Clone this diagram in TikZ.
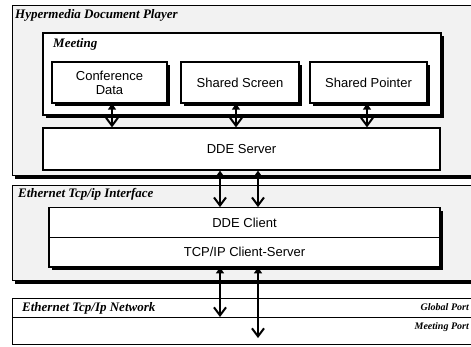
\documentclass[tikz,border=0pt]{standalone}
\usepackage{fontspec}
\setmainfont{Liberation Serif}
\setsansfont{Liberation Sans}
\usetikzlibrary{arrows.meta,shadows}
\begin{document}
\begin{tikzpicture}[x=1pt,y=-1pt,
  outer/.style={draw, line width=1.4, fill=black!5, anchor=north west, inner sep=0,
    drop shadow={shadow xshift=2pt, shadow yshift=-3.5pt, fill=black, opacity=1}},
  netbox/.style={draw, line width=1.2, fill=white, anchor=north west, inner sep=0},
  box/.style={draw, line width=1.2, fill=white, inner sep=0, align=center,
    font=\sffamily\fontsize{13}{14}\selectfont,
    drop shadow={shadow xshift=3pt, shadow yshift=-3pt, fill=black, opacity=1}},
  plain/.style={draw, line width=1.2, fill=white, inner sep=0, align=center,
    font=\sffamily\fontsize{13}{14}\selectfont},
  lbl/.style={font=\bfseries\itshape\fontsize{13}{15}\selectfont, anchor=west, inner sep=0},
  port/.style={font=\bfseries\itshape\fontsize{10}{11}\selectfont, anchor=east, inner sep=0},
  link/.style={line width=1.4, {Triangle[length=6pt,width=8pt]}-{Straight Barb[length=8pt,width=12pt,line width=2pt]}}
]
\useasboundingbox (0,0) rectangle (471,346);
% outer containers
\node[outer, minimum width=470, minimum height=170] (hdp) at (12,5) {};
\node[lbl] (hdpl) at (15,15) {Hypermedia Document Player};
\node[box, minimum width=398, minimum height=82] (meet) at (242,74) {};
\node[lbl] (meetl) at (53,44) {Meeting};
\node[box, minimum width=115, minimum height=41] (cd) at (109.5,82.5) {Conference\\Data};
\node[box, minimum width=118, minimum height=41] (ss) at (240,82.5) {Shared Screen};
\node[box, minimum width=117, minimum height=41] (sp) at (368.5,82.5) {Shared Pointer};
\node[plain, minimum width=397, minimum height=42] (ddes) at (241.5,149) {DDE Server};

\node[outer, minimum width=470, minimum height=95] (eti) at (12,185) {};
\node[lbl] (etil) at (18,194) {Ethernet Tcp/ip Interface};
\node[box, minimum width=391, minimum height=59] (ifc) at (244.5,237.5) {};
\node[plain, minimum width=391, minimum height=29.5] (ddec) at (244.5,222.5) {DDE Client};
\node[plain, minimum width=391, minimum height=29.5] (tcp) at (244.5,252) {TCP/IP Client-Server};

\node[netbox, minimum width=470, minimum height=46] (net) at (12,298) {};
\node[lbl] (netl) at (22,308) {Ethernet Tcp/Ip Network};
\coordinate (gl) at (12,317);
\coordinate (gr) at (482,317);
\draw[line width=0.9] (gl) -- (gr);
\node[port] (gp) at (469,307) {Global Port};
\node[port] (mp) at (469,327) {Meeting Port};

% connectors
\draw[link] (cd.south -| 112,0) -- (ddes.north -| 112,0);
\draw[link] (ss.south -| 236,0) -- (ddes.north -| 236,0);
\draw[link] (sp.south -| 367,0) -- (ddes.north -| 367,0);
\coordinate (a1) at (220,0);
\coordinate (a2) at (258,0);
\draw[link] (ddes.south -| a1) -- (ddec.north -| a1);
\draw[link] (ddes.south -| a2) -- (ddec.north -| a2);
\coordinate (e1) at (220,317);
\coordinate (e2) at (258,338);
\draw[link] (tcp.south -| a1) -- (e1);
\draw[link] (tcp.south -| a2) -- (e2);
\end{tikzpicture}
\end{document}
